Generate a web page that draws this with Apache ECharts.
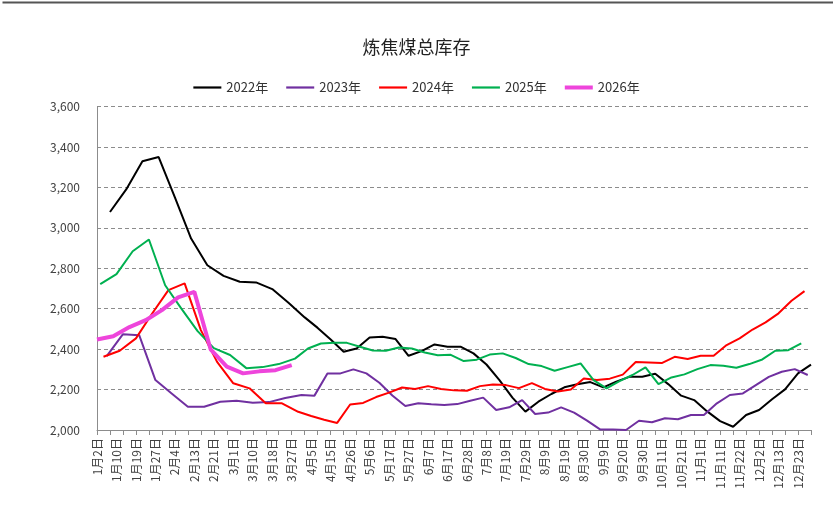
<!DOCTYPE html>
<html>
<head>
<meta charset="utf-8">
<script src="https://cdn.jsdelivr.net/npm/echarts@6/dist/echarts.min.js"></script>
<style>html,body{margin:0;padding:0;background:#fff}#c{width:833px;height:529px}</style>
</head>
<body>
<div id="c"></div>
<script>
// Weekly (Friday) observation dates: first date of each year and number of weeks
const startDates = { '2022': [2022, 1, 7], '2023': [2023, 1, 6], '2024': [2024, 1, 5], '2025': [2025, 1, 3], '2026': [2026, 1, 2] };
const weekCounts = { '2022': 52, '2023': 52, '2024': 52, '2025': 52, '2026': 13 };

const years = ['2022', '2023', '2024', '2025', '2026'];
const seriesNames = ['2022年', '2023年', '2024年', '2025年', '2026年'];

const v2022 = [3078, 3190, 3329, 3350, 3150, 2947, 2815, 2762, 2733, 2730, 2697, 2629, 2557, 2505, 2448, 2387, 2403, 2458, 2461, 2450, 2367, 2390, 2423, 2412, 2412, 2379, 2324, 2247, 2160, 2091, 2140, 2178, 2211, 2226, 2237, 2211, 2239, 2263, 2263, 2278, 2227, 2170, 2148, 2092, 2044, 2016, 2074, 2099, 2152, 2201, 2280, 2323];
const v2023 = [2365, 2474, 2469, 2247, 2181, 2115, 2115, 2140, 2145, 2135, 2138, 2158, 2173, 2170, 2280, 2280, 2300, 2280, 2234, 2171, 2119, 2132, 2127, 2124, 2128, 2145, 2160, 2099, 2112, 2148, 2079, 2086, 2112, 2086, 2046, 2003, 2003, 2000, 2046, 2038, 2058, 2053, 2074, 2074, 2132, 2173, 2181, 2222, 2263, 2288, 2301, 2272];
const v2024 = [2362, 2392, 2453, 2576, 2692, 2725, 2494, 2337, 2231, 2206, 2132, 2132, 2090, 2069, 2051, 2035, 2126, 2134, 2163, 2185, 2210, 2203, 2217, 2203, 2196, 2194, 2217, 2225, 2222, 2207, 2232, 2203, 2190, 2200, 2255, 2247, 2254, 2274, 2336, 2334, 2331, 2362, 2351, 2367, 2367, 2420, 2453, 2497, 2532, 2577, 2639, 2687];
const v2025 = [2721, 2771, 2884, 2942, 2716, 2600, 2489, 2405, 2371, 2306, 2311, 2326, 2353, 2403, 2428, 2431, 2431, 2412, 2393, 2392, 2408, 2403, 2383, 2370, 2372, 2341, 2348, 2373, 2379, 2356, 2326, 2316, 2293, 2311, 2329, 2247, 2206, 2242, 2272, 2310, 2227, 2260, 2275, 2301, 2321, 2318, 2308, 2326, 2349, 2392, 2395, 2428];
const v2026 = [2448, 2464, 2509, 2543, 2593, 2656, 2683, 2399, 2313, 2280, 2290, 2296, 2321];
const valuesByYear = { '2022': v2022, '2023': v2023, '2024': v2024, '2025': v2025, '2026': v2026 };

const yTicks = { min: 2000, max: 3600, step: 200 };
const titleText = '炼焦煤总库存';

const colors = { '2022': '#000000', '2023': '#7030A0', '2024': '#FF0000', '2025': '#00B050', '2026': '#EE45DB' };
const widths = { '2022': 2, '2023': 2, '2024': 2, '2025': 2, '2026': 4 };

function weeklyDates(y) {
  const [yy, mm, dd] = startDates[y];
  const out = [];
  for (let i = 0; i < weekCounts[y]; i++) {
    const d = new Date(Date.UTC(yy, mm - 1, dd + 7 * i));
    out.push({ m: d.getUTCMonth() + 1, d: d.getUTCDate() });
  }
  return out;
}
const lbl = o => o.m + '月' + o.d + '日';

const datesByYear = {};
const keyMap = new Map();
years.forEach(y => {
  datesByYear[y] = weeklyDates(y);
  datesByYear[y].forEach(o => keyMap.set(o.m * 100 + o.d, lbl(o)));
});
const categories = Array.from(keyMap.keys()).sort((a, b) => a - b).map(k => keyMap.get(k));

const series = years.map((y, i) => ({
  name: seriesNames[i],
  type: 'line',
  symbol: 'none',
  showSymbol: false,
  smooth: false,
  z: y === '2026' ? 3 : 2,
  lineStyle: { color: colors[y], width: widths[y] },
  itemStyle: { color: colors[y] },
  data: datesByYear[y].map((o, j) => [lbl(o), valuesByYear[y][j]])
}));

const chart = echarts.init(document.getElementById('c'), null, { renderer: 'canvas' });
chart.setOption({
  animation: false,
  backgroundColor: '#ffffff',
  textStyle: { fontFamily: '"Noto Sans CJK SC", "Noto Sans", sans-serif' },
  graphic: [{
    type: 'line', left: 0, top: 0,
    shape: { x1: 0, y1: 1, x2: 833, y2: 1 },
    style: { stroke: '#555555', lineWidth: 2 }
  }],
  title: {
    text: titleText,
    left: 'center',
    top: 33,
    textStyle: { fontSize: 18, fontWeight: 'normal', color: '#222', fontFamily: '"Noto Sans CJK SC", sans-serif' }
  },
  legend: {
    top: 76,
    left: 'center',
    itemWidth: 28,
    itemHeight: 14,
    itemGap: 18,
    symbolKeepAspect: true,
    textStyle: { fontSize: 13, color: '#333' },
    data: years.map((y, i) => ({
      name: seriesNames[i],
      icon: widths[y] > 2 ? 'path://M0,0H28V4H0Z' : 'path://M0,0H28V2.2H0Z',
      itemStyle: { color: colors[y] }
    }))
  },
  grid: { left: 97, right: 22, top: 106.5, bottom: 99, containLabel: false },
  xAxis: {
    type: 'category',
    data: categories,
    boundaryGap: false,
    axisLine: { show: true, lineStyle: { color: '#8c8c8c', width: 1 } },
    axisTick: { show: true, interval: 3, length: 5, lineStyle: { color: '#8c8c8c' } },
    axisLabel: { interval: 5, rotate: 90, fontSize: 12, color: '#404040', margin: 8, fontFamily: '"Noto Sans CJK SC", sans-serif' },
    splitLine: { show: false }
  },
  yAxis: {
    type: 'value',
    min: yTicks.min,
    max: yTicks.max,
    interval: yTicks.step,
    axisLine: { show: true, lineStyle: { color: '#8c8c8c', width: 1 } },
    axisTick: { show: false },
    axisLabel: {
      fontSize: 12, color: '#404040', margin: 17,
      formatter: v => v.toLocaleString('en-US')
    },
    splitLine: { show: true, lineStyle: { color: '#8c8c8c', type: [4, 3], width: 1 } }
  },
  series: series
});
</script>
</body>
</html>
